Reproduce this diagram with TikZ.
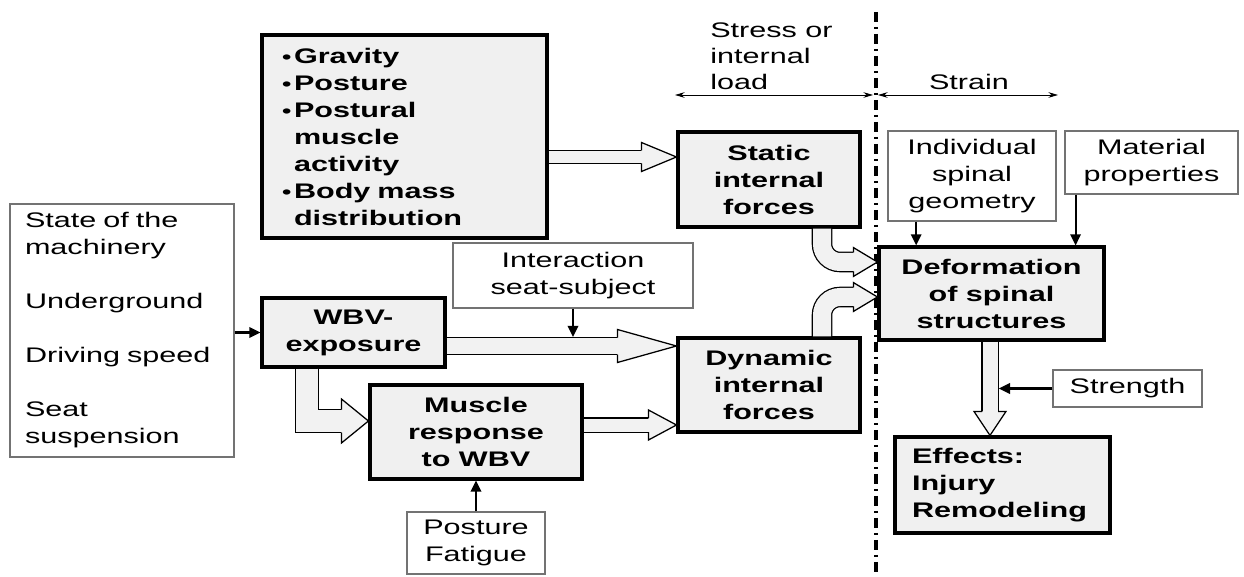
\documentclass[tikz,border=0pt]{standalone}
\usepackage{fontspec}
\setmainfont{Liberation Sans}[FakeStretch=1.45]
\usepackage{xcolor}
\usepackage{tikz}
\usetikzlibrary{arrows.meta,calc}
\definecolor{boxgray}{gray}{0.94}
\definecolor{arrowgray}{gray}{0.95}
\newcommand{\itm}{\makebox[0.3cm][l]{\fontsize{13}{13}\selectfont•}}
\newcommand{\cont}{\hspace*{0.3cm}}

\begin{document}
\begin{tikzpicture}[
    every node/.style={font=\fontsize{15}{19.2}\selectfont, inner sep=0pt},
    heavy/.style={draw, line width=2.2pt, fill=boxgray, align=center,
      font=\fontsize{15}{19.2}\selectfont\bfseries},
    light/.style={draw=black!55, line width=0.8pt, fill=white, align=center},
    feed/.style={line width=1.5pt, -{Triangle[length=0.28cm,width=0.26cm]}},
    zone/.style={line width=0.6pt, {Stealth[length=0.24cm,width=0.14cm]}-{Stealth[length=0.24cm,width=0.14cm]}},
    divider/.style={line width=2.6pt, dash pattern=on 0.25cm off 0.12cm on 0.06cm off 0.12cm},
    shaft/.style={line width=0.9pt, double=arrowgray, double distance=#1},
    pics/fathead/.style n args={3}{code={
      \fill[arrowgray] (-#1,-#2) -- (0,0) -- (-#1,#2) -- cycle;
      \draw[line width=0.9pt, line join=miter] (-#1,-#3) -- (-#1,-#2) -- (0,0) -- (-#1,#2) -- (-#1,#3);}}]
  \useasboundingbox (0,0) rectangle (31.1,14.4);
  \draw[divider] (21.9,14.1) -- (21.9,0);
  \coordinate (sl) at (16.875,12.025);
  \coordinate (sm) at (21.825,12.025);
  \coordinate (tl) at (21.95,12.025);
  \coordinate (tr) at (26.45,12.025);
  \draw[zone] (sl) -- (sm);
  \draw[zone] (tl) -- (tr);
  \node[anchor=west, align=left, font=\fontsize{15}{18.5}\selectfont] (stress) at (17.75,13.0) {Stress or\\internal\\load};
  \node (strain) at (24.225,12.35) {Strain};

  \node[light, minimum width=5.6cm, minimum height=6.325cm, text width=4.85cm, align=left] (ctrl) at (3.05,6.1375)
    {State of the\\machinery\\[19.2pt]Underground\\[19.2pt]Driving speed\\[19.2pt]Seat\\suspension};
  \node[heavy, minimum width=7.125cm, minimum height=5.075cm, text width=6.125cm, align=left] (grav) at (10.1125,10.9875)
    {\itm Gravity\\\itm Posture\\\itm Postural\\\cont muscle\\\cont activity\\\itm Body mass\\\cont distribution};
  \node[heavy, minimum width=4.55cm, minimum height=2.375cm] (static) at (19.225,9.9125) {Static\\internal\\forces};
  \node[heavy, minimum width=4.55cm, minimum height=2.35cm] (dyn) at (19.225,4.775) {Dynamic\\internal\\forces};
  \node[heavy, minimum width=5.3cm, minimum height=2.35cm] (musc) at (11.9,3.6) {Muscle\\response\\to WBV};
  \node[heavy, minimum width=4.575cm, minimum height=1.725cm] (wbv) at (8.8375,6.0875) {WBV-\\exposure};
  \node[light, minimum width=6cm, minimum height=1.625cm] (inter) at (14.325,7.5125) {Interaction\\seat-subject};
  \node[light, minimum width=3.45cm, minimum height=1.55cm] (post) at (11.9,0.825) {Posture\\Fatigue};
  \node[heavy, minimum width=5.625cm, minimum height=2.325cm] (deform) at (24.7875,7.0625) {Deformation\\of spinal\\structures};
  \node[light, minimum width=4.2cm, minimum height=2.25cm] (indiv) at (24.3,10.0) {Individual\\spinal\\geometry};
  \node[light, minimum width=4.325cm, minimum height=1.575cm] (mater) at (28.7875,10.3375) {Material\\properties};
  \node[light, minimum width=3.725cm, minimum height=0.925cm] (strength) at (28.1875,4.6875) {Strength};
  \node[heavy, minimum width=5.375cm, minimum height=2.4cm, text width=4.525cm, align=left] (effects) at (25.0625,2.275)
    {Effects:\\Injury\\Remodeling};

  \coordinate (a1) at (0,10.475);
  \coordinate (a2) at (0,5.75);
  \coordinate (a3) at (7.675,3.875);
  \coordinate (a4) at (0,3.775);
  \coordinate (a5) at (20.55,7.85);
  \coordinate (a6) at (20.55,6.975);
  \coordinate (a7) at (24.75,0);
  \coordinate (a2top) at (0,5.975);
  \coordinate (a7r) at (24.97,0);
  \coordinate (ig) at ($(indiv.south west)!0.17!(indiv.south east)$);
  \coordinate (mp) at ($(mater.south west)!0.064!(mater.south east)$);

  \draw[shaft=0.3cm] (grav.east |- a1) -- ($(static.west |- a1)+(-0.84,0)$);
  \pic at (static.west |- a1) {fathead={0.875}{0.3625}{0.1625}};
  \draw[shaft=0.4cm] (wbv.east |- a2) -- ($(dyn.west |- a2)+(-1.44,0)$);
  \pic at (dyn.west |- a2) {fathead={1.475}{0.4125}{0.2125}};
  \draw[shaft=0.55cm] (a3 |- wbv.south) -- (a3) -- ($(musc.west |- a3)+(-0.64,0)$);
  \pic at (musc.west |- a3) {fathead={0.675}{0.55}{0.2875}};
  \draw[shaft=0.325cm] (musc.east |- a4) -- ($(dyn.west |- a4)+(-0.66,0)$);
  \pic at (dyn.west |- a4) {fathead={0.7}{0.375}{0.175}};
  \draw[shaft=0.45cm, rounded corners=0.45cm] (a5 |- static.south) -- (a5) -- ($(deform.west |- a5)+(-0.56,0)$);
  \pic at (deform.west |- a5) {fathead={0.6}{0.36}{0.2375}};
  \draw[shaft=0.45cm, rounded corners=0.45cm] (a6 |- dyn.north) -- (a6) -- ($(deform.west |- a6)+(-0.56,0)$);
  \pic at (deform.west |- a6) {fathead={0.6}{0.36}{0.2375}};
  \draw[shaft=0.375cm] (a7 |- deform.south) -- ($(a7 |- effects.north)+(0,0.56)$);
  \pic[rotate=-90] at (a7 |- effects.north) {fathead={0.6}{0.4}{0.2}};

  \draw[feed] (ctrl.east |- wbv.west) -- (wbv.west);
  \draw[feed] (post.north) -- (musc.south);
  \draw[feed] (inter.south) -- (inter.south |- a2top);
  \draw[feed] (ig) -- (ig |- deform.north);
  \draw[feed] (mp) -- (mp |- deform.north);
  \draw[feed] (strength.west) -- (strength.west -| a7r);
\end{tikzpicture}
\end{document}
